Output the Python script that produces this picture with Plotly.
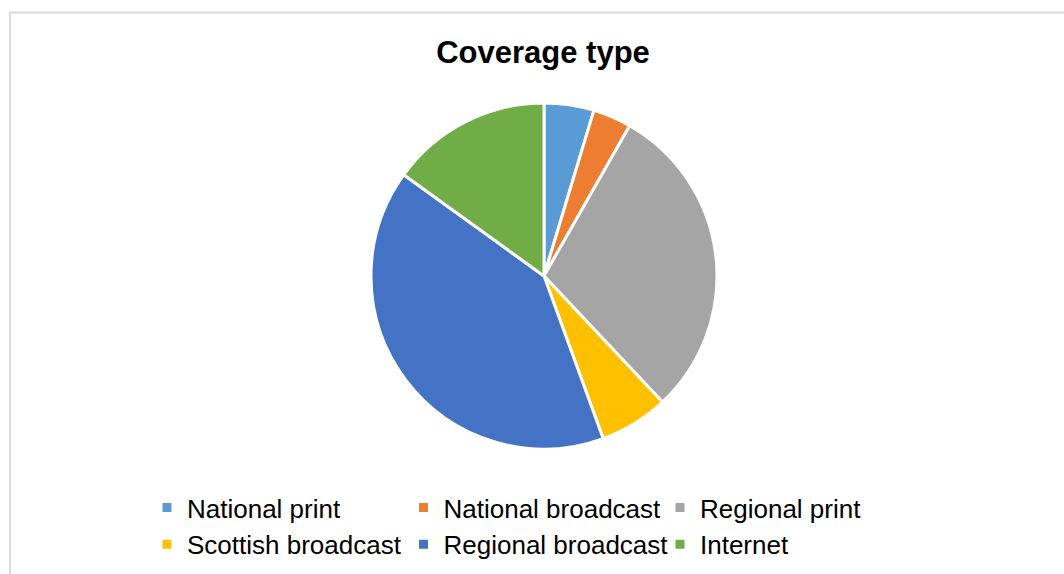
import plotly.graph_objects as go

categories = ["National print", "National broadcast", "Regional print",
              "Scottish broadcast", "Regional broadcast", "Internet"]
counts = [13, 10, 83, 18, 113, 42]
colors = ["#5B9BD5", "#ED7D31", "#A5A5A5", "#FFC000", "#4472C4", "#70AD47"]

W, H = 1064, 574
R = 200            # right margin so the legend wraps after three entries
PW = W - R         # plot-area width in px

fig = go.Figure(go.Pie(
    labels=categories,
    values=counts,
    sort=False,
    direction="clockwise",
    rotation=0,
    textinfo="none",
    marker=dict(colors=colors, line=dict(color="white", width=3)),
    domain=dict(x=[371 / PW, 717 / PW], y=[1 - 449 / H, 1 - 103 / H]),
))

fig.update_layout(
    width=W, height=H,
    margin=dict(l=0, r=R, t=0, b=0, autoexpand=False),
    paper_bgcolor="white",
    plot_bgcolor="white",
    font=dict(family="Liberation Sans, Arial, sans-serif", color="black"),
    title=dict(text="<b>Coverage type</b>", x=543 / W, xanchor="center",
               y=1 - 52 / H, yanchor="middle",
               font=dict(size=31, color="black",
                         family="Liberation Sans, Arial, sans-serif")),
    showlegend=True,
    legend=dict(orientation="h", x=147 / PW, xanchor="left",
                y=1 - 526 / H, yanchor="middle",
                font=dict(size=26, color="black"),
                entrywidth=256.5 / PW, entrywidthmode="fraction",
                traceorder="normal", bgcolor="rgba(0,0,0,0)"),
    shapes=[dict(type="rect", xref="paper", yref="paper",
                 x0=10 / PW, x1=(W + 10) / PW, y0=-0.02, y1=1 - 12.5 / H,
                 line=dict(color="#D9D9D9", width=2), layer="below")],
)

fig.write_html("out.html")
